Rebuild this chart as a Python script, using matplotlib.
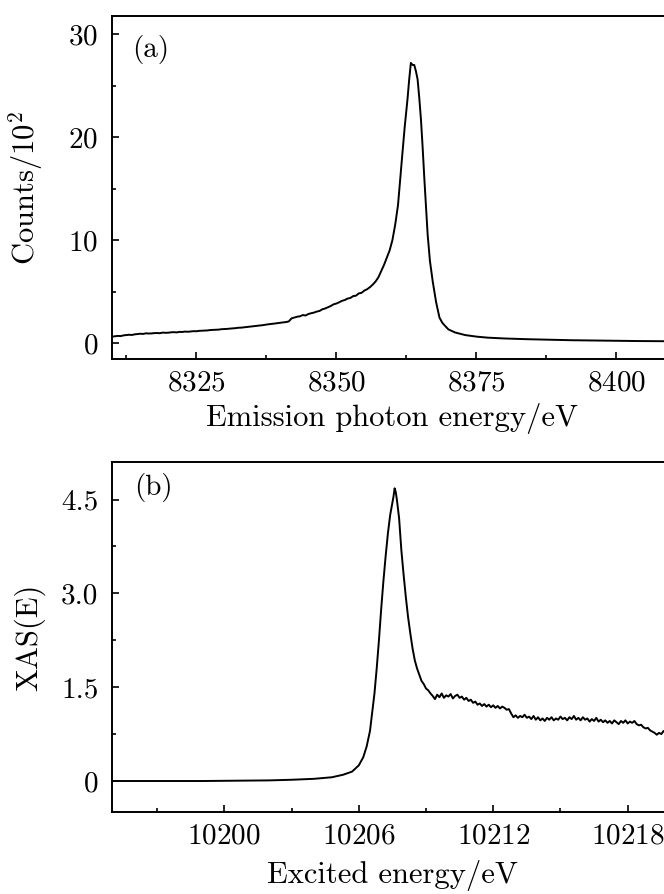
import matplotlib
matplotlib.use('Agg')
import matplotlib.pyplot as plt
from matplotlib.ticker import MultipleLocator

plt.rcParams['font.family'] = 'serif'
plt.rcParams['font.serif'] = ['cmr10']
plt.rcParams['mathtext.fontset'] = 'cm'
plt.rcParams['axes.formatter.use_mathtext'] = True

# (a) emission spectrum, counts / 10^2
energy_a = [8310.0, 8310.5, 8311.0, 8311.5, 8312.0, 8312.5, 8313.0, 8313.5, 8314.0, 8314.5,
            8315.0, 8315.5, 8316.0, 8316.5, 8317.0, 8317.5, 8318.0, 8318.5, 8319.0, 8319.5,
            8320.0, 8320.5, 8321.0, 8321.5, 8322.0, 8322.5, 8323.0, 8323.5, 8324.0, 8324.5,
            8325.0, 8325.5, 8326.0, 8326.5, 8327.0, 8327.5, 8328.0, 8328.5, 8329.0, 8329.5,
            8330.0, 8330.5, 8331.0, 8331.5, 8332.0, 8332.5, 8333.0, 8333.5, 8334.0, 8334.5,
            8335.0, 8335.5, 8336.0, 8336.5, 8337.0, 8337.5, 8338.0, 8338.5, 8339.0, 8339.5,
            8340.0, 8340.5, 8341.0, 8341.5, 8342.0, 8342.5, 8343.0, 8343.5, 8344.0, 8344.5,
            8345.0, 8345.5, 8346.0, 8346.5, 8347.0, 8347.5, 8348.0, 8348.5, 8349.0, 8349.5,
            8350.0, 8350.5, 8351.0, 8351.5, 8352.0, 8352.5, 8353.0, 8353.5, 8354.0, 8354.5,
            8355.0, 8355.5, 8356.0, 8356.5, 8357.0, 8357.5, 8358.0, 8358.5, 8359.0, 8359.5,
            8360.0, 8360.5, 8361.0, 8361.4, 8361.8, 8362.2, 8362.7, 8363.0, 8363.3, 8363.6,
            8363.9, 8364.2, 8364.5, 8364.8, 8365.1, 8365.4, 8365.7, 8366.0, 8366.3, 8366.7,
            8367.2, 8367.8, 8368.4, 8368.9, 8369.3, 8370.0, 8371.2, 8373.0, 8375.0, 8377.0,
            8380.0, 8384.0, 8388.0, 8392.0, 8396.0, 8400.0, 8404.0, 8410.0]
counts_a = [0.65, 0.68, 0.72, 0.70, 0.77, 0.80, 0.83, 0.81, 0.87, 0.90,
            0.93, 0.91, 0.97, 0.95, 0.96, 0.99, 1.00, 0.98, 1.04, 1.02,
            1.03, 1.07, 1.08, 1.06, 1.11, 1.10, 1.14, 1.12, 1.15, 1.18,
            1.17, 1.21, 1.22, 1.24, 1.25, 1.29, 1.30, 1.31, 1.33, 1.37,
            1.38, 1.40, 1.43, 1.45, 1.47, 1.51, 1.52, 1.55, 1.58, 1.60,
            1.64, 1.66, 1.71, 1.73, 1.77, 1.82, 1.85, 1.87, 1.92, 1.96,
            2.00, 2.03, 2.06, 2.12, 2.42, 2.50, 2.58, 2.62, 2.74, 2.70,
            2.84, 2.92, 2.98, 3.08, 3.14, 3.30, 3.38, 3.50, 3.62, 3.78,
            3.86, 3.98, 4.12, 4.20, 4.34, 4.40, 4.58, 4.62, 4.84, 4.90,
            5.12, 5.25, 5.45, 5.70, 6.00, 6.40, 7.00, 7.60, 8.30, 9.00,
            10.0, 11.5, 13.4, 16.0, 18.5, 21.0, 23.7, 25.6, 27.2, 27.0,
            27.0, 26.4, 25.6, 23.8, 21.7, 19.0, 16.0, 13.2, 10.5, 8.0,
            6.0, 4.0, 2.5, 2.0, 1.75, 1.35, 1.05, 0.80, 0.65, 0.55,
            0.47, 0.40, 0.35, 0.30, 0.27, 0.24, 0.22, 0.20]

# (b) excitation spectrum
energy_b = [10195.0, 10197.0, 10199.0, 10200.5, 10202.0, 10203.0, 10204.0, 10204.8, 10205.3, 10205.7,
            10206.0, 10206.2, 10206.35, 10206.5, 10206.6, 10206.7, 10206.8, 10206.9, 10207.0, 10207.1,
            10207.2, 10207.3, 10207.4, 10207.5, 10207.55, 10207.6, 10207.65, 10207.7, 10207.8, 10207.9,
            10208.0, 10208.1, 10208.2, 10208.3, 10208.4, 10208.5, 10208.6, 10208.7, 10208.8, 10208.9,
            10209.0, 10209.1, 10209.2,
            10209.3, 10209.4, 10209.5, 10209.6, 10209.7, 10209.8, 10209.9, 10210.0, 10210.1, 10210.2,
            10210.3, 10210.4, 10210.5, 10210.6, 10210.7, 10210.8, 10210.9, 10211.0, 10211.1, 10211.2,
            10211.3, 10211.4, 10211.5, 10211.6, 10211.7, 10211.8, 10211.9, 10212.0, 10212.1, 10212.2,
            10212.3, 10212.4, 10212.5, 10212.6, 10212.7, 10212.8, 10212.9, 10213.0, 10213.1, 10213.2,
            10213.3, 10213.4, 10213.5, 10213.6, 10213.7, 10213.8, 10213.9, 10214.0, 10214.1, 10214.2,
            10214.3, 10214.4, 10214.5, 10214.6, 10214.7, 10214.8, 10214.9, 10215.0, 10215.1, 10215.2,
            10215.3, 10215.4, 10215.5, 10215.6, 10215.7, 10215.8, 10215.9, 10216.0, 10216.1, 10216.2,
            10216.3, 10216.4, 10216.5, 10216.6, 10216.7, 10216.8, 10216.9, 10217.0, 10217.1, 10217.2,
            10217.3, 10217.4, 10217.5, 10217.6, 10217.7, 10217.8, 10217.9, 10218.0, 10218.1, 10218.2,
            10218.3, 10218.4, 10218.5, 10218.6, 10218.7, 10218.8, 10218.9, 10219.0, 10219.1, 10219.2,
            10219.3, 10219.4, 10219.5, 10219.6, 10219.7, 10219.8, 10219.9, 10220.0]
xas_b = [0.0, 0.0, 0.0, 0.005, 0.01, 0.02, 0.035, 0.06, 0.10, 0.15,
         0.25, 0.38, 0.55, 0.80, 1.10, 1.40, 1.80, 2.25, 2.75, 3.20,
         3.60, 3.96, 4.25, 4.45, 4.55, 4.68, 4.62, 4.50, 4.20, 3.69,
         3.30, 2.94, 2.62, 2.36, 2.12, 1.93, 1.80, 1.70, 1.60, 1.55,
         1.48, 1.45, 1.40,
         1.36, 1.31, 1.38, 1.34, 1.40, 1.33, 1.37, 1.35, 1.39, 1.32,
         1.36, 1.38, 1.33, 1.35, 1.30, 1.33, 1.28, 1.30, 1.25, 1.27,
         1.22, 1.24, 1.20, 1.23, 1.19, 1.22, 1.18, 1.21, 1.17, 1.20,
         1.16, 1.19, 1.17, 1.14, 1.15, 1.08, 1.02, 1.05, 1.01, 1.04,
         1.02, 1.06, 1.01, 1.03, 0.99, 1.04, 0.98, 1.02, 0.97, 1.00,
         0.96, 1.01, 0.98, 1.02, 0.97, 1.00, 0.98, 1.03, 0.99, 1.01,
         0.97, 1.02, 0.99, 1.04, 0.98, 1.01, 0.97, 1.02, 0.98, 1.00,
         0.95, 0.99, 0.96, 1.01, 0.95, 0.98, 0.94, 0.97, 0.93, 0.96,
         0.92, 0.97, 0.94, 0.91, 0.96, 0.93, 0.97, 0.92, 0.95, 0.93,
         0.96, 0.91, 0.89, 0.90, 0.86, 0.84, 0.85, 0.81, 0.79, 0.77,
         0.74, 0.77, 0.75, 0.80, 0.77, 0.79, 0.78, 0.80]

xticks_a = [8325, 8350, 8375, 8400]
yticks_a = [0, 10, 20, 30]
xticks_b = [10200, 10206, 10212, 10218]
yticks_b = [0, 1.5, 3.0, 4.5]
ylabels_b = ['0', '1.5', '3.0', '4.5']

fig = plt.figure(figsize=(6.64, 8.94), dpi=100)
ax1 = fig.add_axes([0.1691, 0.5981, 0.8437, 0.3840])
ax2 = fig.add_axes([0.1691, 0.0914, 0.8437, 0.3918])

ax1.plot(energy_a, counts_a, color='black', lw=1.4)
ax2.plot(energy_b, xas_b, color='black', lw=1.4)

ax1.set_xlim(8310, 8410)
ax1.set_ylim(-1.55, 31.75)
ax1.set_xticks(xticks_a)
ax1.set_yticks(yticks_a)
ax1.xaxis.set_minor_locator(MultipleLocator(12.5))
ax1.yaxis.set_minor_locator(MultipleLocator(5))

ax2.set_xlim(10195, 10220)
ax2.set_ylim(-0.5, 5.1)
ax2.set_xticks(xticks_b)
ax2.set_yticks(yticks_b, ylabels_b)
ax2.xaxis.set_minor_locator(MultipleLocator(3))
ax2.yaxis.set_minor_locator(MultipleLocator(0.75))

fs = 21
for ax in (ax1, ax2):
    for s in ax.spines.values():
        s.set_linewidth(1.4)
    ax.tick_params(which='both', direction='in', top=False, right=False, width=1.2, labelsize=fs)
    ax.tick_params(which='major', length=5, pad=8)
    ax.tick_params(which='minor', length=3)
    ax.tick_params(axis='y', pad=10)

ax1.set_xlabel('Emission photon energy/eV', fontsize=fs + 1)
ax1.set_ylabel('Counts/10$^2$', fontsize=fs + 1)
ax2.set_xlabel('Excited energy/eV', fontsize=fs + 1)
ax2.set_ylabel('XAS(E)', fontsize=fs + 1)
ax1.xaxis.set_label_coords(0.5, -0.127)
ax2.xaxis.set_label_coords(0.5, -0.136)
ax1.yaxis.set_label_coords(-0.12, 0.5)
ax2.yaxis.set_label_coords(-0.12, 0.5)

ax1.text(0.069, 0.901, '(a)', transform=ax1.transAxes, fontsize=fs, ha='center', va='center')
ax2.text(0.073, 0.926, '(b)', transform=ax2.transAxes, fontsize=fs, ha='center', va='center')

fig.savefig('out.png', dpi=100)
